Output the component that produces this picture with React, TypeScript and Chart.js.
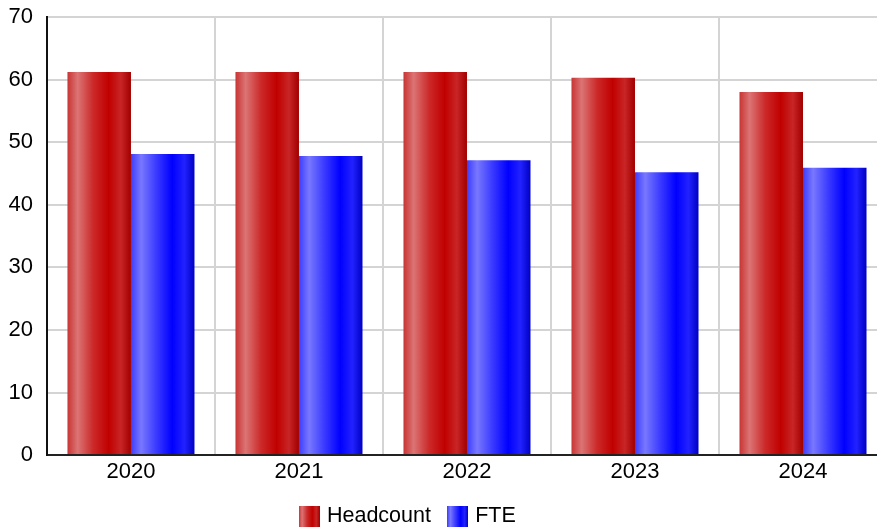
import React, { useEffect, useRef } from "react";
import { Chart, registerables } from "chart.js";

Chart.register(...registerables);

const years = ["2020", "2021", "2022", "2023", "2024"];
const headcount = [61.2, 61.2, 61.2, 60.3, 58.0];
const fte = [48.1, 47.8, 47.1, 45.2, 45.9];
const seriesNames = ["Headcount", "FTE"];

// Horizontal "cylinder" shading for each series
const redStops: [number, string][] = [
  [0, "#c83434"],
  [0.16, "#dc7474"],
  [0.4, "#cc2a2a"],
  [0.65, "#c00000"],
  [0.84, "#c82626"],
  [1, "#a20000"],
];
const blueStops: [number, string][] = [
  [0, "#3c3cff"],
  [0.16, "#7878ff"],
  [0.4, "#3a3aff"],
  [0.65, "#0000ff"],
  [0.84, "#2222ff"],
  [1, "#0000c4"],
];
const stopSets = [redStops, blueStops];

const FONT = "'Liberation Sans', Arial, sans-serif";

function fillGradient(ctx: CanvasRenderingContext2D, x0: number, x1: number, stops: [number, string][]) {
  const g = ctx.createLinearGradient(x0, 0, x1, 0);
  stops.forEach(([o, c]) => g.addColorStop(o, c));
  return g;
}

function makeSwatch(stops: [number, string][]) {
  const c = document.createElement("canvas");
  c.width = 21;
  c.height = 21;
  const cx = c.getContext("2d")!;
  cx.fillStyle = fillGradient(cx, 0, 21, stops);
  cx.fillRect(0, 0, 21, 21);
  return c;
}

// Give every bar its own gradient spanning the bar's width
const barShading = {
  id: "barShading",
  beforeDatasetsDraw(chart: any) {
    const ctx = chart.ctx as CanvasRenderingContext2D;
    chart.data.datasets.forEach((_: any, di: number) => {
      const meta = chart.getDatasetMeta(di);
      meta.data.forEach((el: any) => {
        const { x, width } = el.getProps(["x", "width"], true);
        const left = x - width / 2;
        el.options = Object.assign({}, el.options, {
          backgroundColor: fillGradient(ctx, left, left + width, stopSets[di]),
        });
      });
    });
  },
};

// Centre the legend row a little left of the canvas middle
const legendShift = {
  id: "legendShift",
  afterLayout(chart: any) {
    if (chart.legend) chart.legend.right -= 63.5;
  },
};

export default function App() {
  const ref = useRef<HTMLCanvasElement>(null);

  useEffect(() => {
    const swatches = stopSets.map(makeSwatch);
    const chart = new Chart(ref.current!, {
      type: "bar",
      data: {
        labels: years,
        datasets: [
          { label: seriesNames[0], data: headcount, backgroundColor: "#c00000", borderWidth: 0 },
          { label: seriesNames[1], data: fte, backgroundColor: "#0000ff", borderWidth: 0 },
        ],
      },
      plugins: [barShading, legendShift],
      options: {
        animation: false,
        responsive: false,
        maintainAspectRatio: false,
        events: [],
        datasets: {
          bar: { categoryPercentage: 0.756, barPercentage: 1 },
        },
        layout: { padding: { left: -5.5, top: 17, right: 3, bottom: 0 } },
        scales: {
          x: {
            grid: { color: "#d4d4d4", lineWidth: 2, drawTicks: false, offset: true },
            border: { color: "#222", width: 2 },
            ticks: { color: "#000", font: { family: FONT, size: 22 }, padding: 3.5 },
            afterFit: (scale: any) => {
              scale.height -= 2.5;
            },
          },
          y: {
            min: 0,
            max: 70,
            grid: { color: "#d4d4d4", lineWidth: 2, drawTicks: false },
            border: { color: "#111", width: 2 },
            ticks: { stepSize: 10, color: "#000", font: { family: FONT, size: 22 }, padding: 14 },
            afterFit: (scale: any) => {
              scale.paddingTop = 0;
              scale.paddingBottom = 0;
            },
          },
        },
        plugins: {
          title: { display: false },
          tooltip: { enabled: false },
          legend: {
            position: "bottom",
            labels: {
              usePointStyle: true,
              pointStyleWidth: 14,
              padding: 19.5,
              color: "#000",
              font: { family: FONT, size: 21.5 },
              generateLabels: (c: any) => {
                const items = (Chart.defaults.plugins.legend.labels as any).generateLabels(c);
                items.forEach((it: any, i: number) => {
                  it.pointStyle = swatches[i];
                });
                return items;
              },
            },
          },
        },
      } as any,
    });
    return () => chart.destroy();
  }, []);

  return (
    <div style={{ position: "fixed", left: 0, top: 0, width: 890, height: 537, background: "#fff" }}>
      <canvas ref={ref} width={890} height={537} style={{ display: "block" }} />
    </div>
  );
}
